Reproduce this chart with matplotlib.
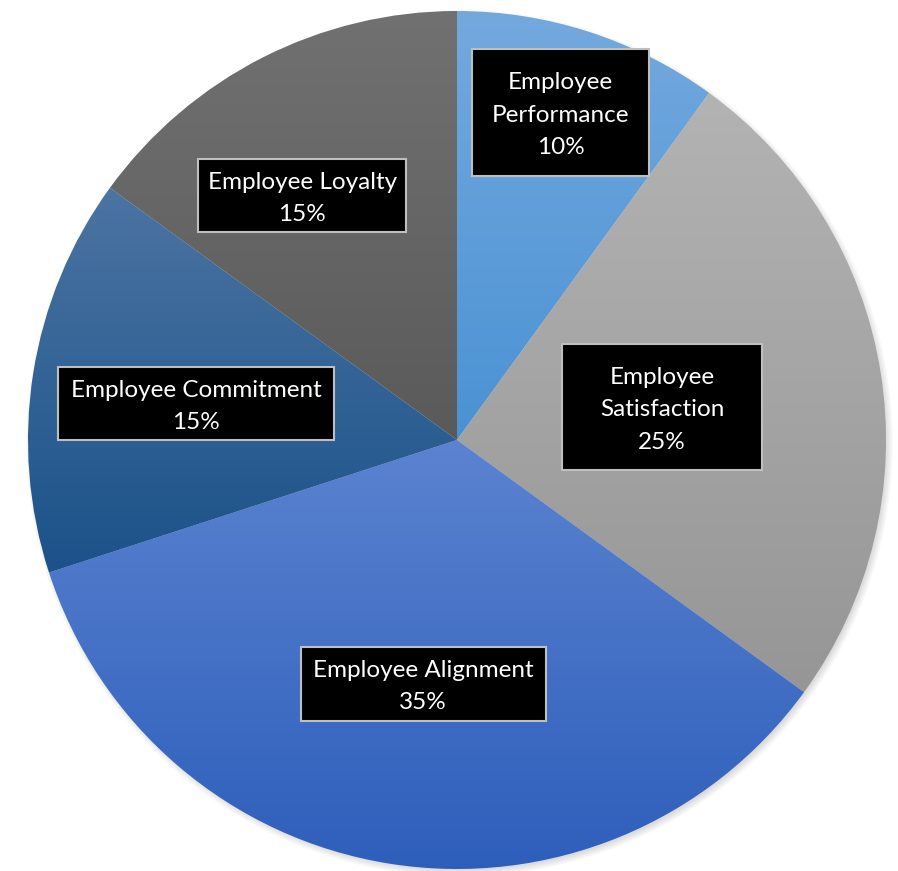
import numpy as np
import matplotlib.pyplot as plt
from matplotlib.colors import LinearSegmentedColormap
from matplotlib.patches import Circle, Rectangle

labels = ["Employee\nPerformance", "Employee\nSatisfaction", "Employee Alignment",
          "Employee Commitment", "Employee Loyalty"]
values = [10, 25, 35, 15, 15]

# gradient colours (top, bottom) for each slice
grad = [("#74a9de", "#4a92d4"),
        ("#b3b3b3", "#969696"),
        ("#5b83d0", "#2d5ebb"),
        ("#4b74a2", "#1b5289"),
        ("#717171", "#5a5a5a")]
# label box layout: distance from centre, angle tweak (deg), box size (px)
label_r = [0.80, 0.484, 0.574, 0.614, 0.674]
label_dang = [0.4, 0.1, 1.1, 1.1, 5.4]
box_wh = [(177, 127), (200, 126), (245, 74), (276, 73), (208, 73)]

W, H = 898, 871
cx, cy, R = 457, 440, 429  # pie centre / radius in pixels

fig = plt.figure(figsize=(W/100, H/100), dpi=100)
ax = fig.add_axes([0, 0, 1, 1])
ax.axis('off')

# soft shadow under the pie
for k in range(6):
    ax.add_patch(Circle((0.006, -0.008), 0.995 + k*0.003, color='#000000',
                        alpha=0.025, lw=0, zorder=0))

wedges, _ = ax.pie(values, startangle=90, counterclock=False, radius=1.0,
                   wedgeprops=dict(lw=0))

for w, (ctop, cbot) in zip(wedges, grad):
    w.set_facecolor('none')
    v = w.get_path().vertices
    y0, y1 = v[:, 1].min(), v[:, 1].max()
    x0, x1 = v[:, 0].min(), v[:, 0].max()
    cmap = LinearSegmentedColormap.from_list('g', [cbot, ctop])
    g = np.linspace(0, 1, 256).reshape(-1, 1)
    im = ax.imshow(g, cmap=cmap, aspect='auto', origin='lower',
                   extent=(x0, x1, y0, y1), zorder=1, interpolation='bilinear')
    im.set_clip_path(w)

for w, lab, v, r, da, (bw, bh) in zip(wedges, labels, values, label_r, label_dang, box_wh):
    mid = np.deg2rad((w.theta1 + w.theta2) / 2 + da)
    tx, ty = r*np.cos(mid), r*np.sin(mid)
    bw, bh = bw/R, bh/R
    ax.add_patch(Rectangle((tx - bw/2, ty - bh/2), bw, bh, fc='black', ec='#bfbfbf',
                           lw=1.5, zorder=4))
    ax.text(tx, ty - 2.5/R, f"{lab}\n{v}%", ha='center', va='center',
            color='white', fontsize=17.5, family='Lato', linespacing=1.68, zorder=5)

ax.set_xlim(-cx/R, (W-cx)/R)
ax.set_ylim(-(H-cy)/R, cy/R)
plt.savefig("out.png", dpi=100)
